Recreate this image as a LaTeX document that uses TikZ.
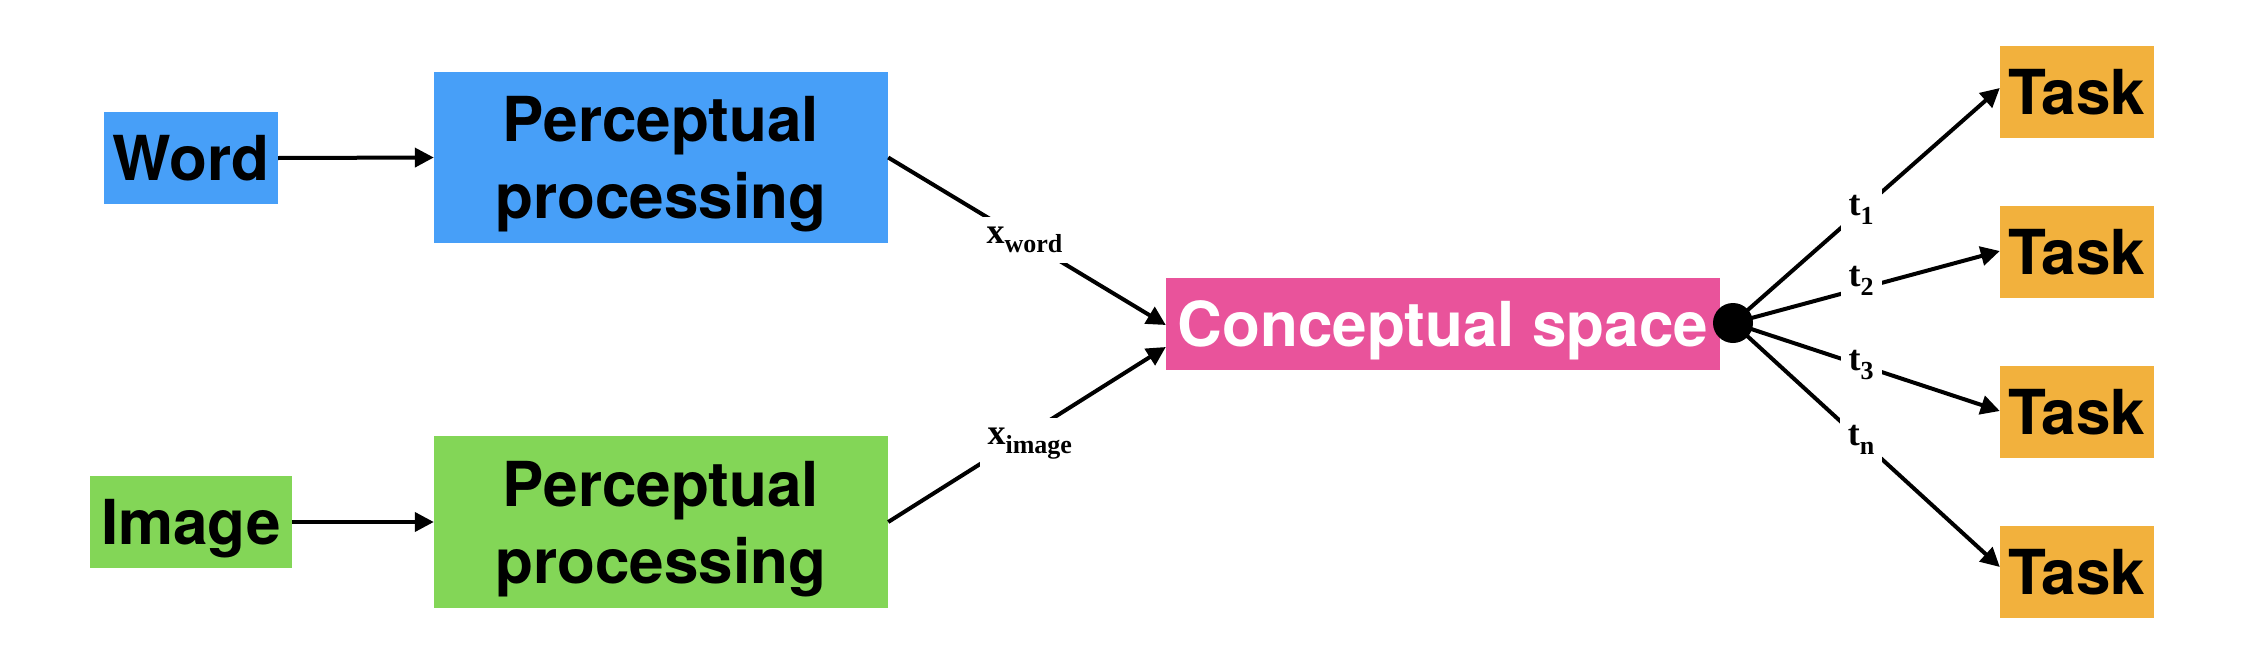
\documentclass[tikz,border=0pt]{standalone}
\usepackage{fontspec}
\setmainfont{TeX Gyre Heros}
\newfontfamily\labfont{Liberation Serif}
\usetikzlibrary{arrows.meta,calc}
\definecolor{cblue}{RGB}{71,159,248}
\definecolor{cgreen}{RGB}{131,214,87}
\definecolor{cpink}{RGB}{233,83,155}
\definecolor{corange}{RGB}{242,177,61}
\newcommand{\edgetext}[2]{{\labfont\bfseries\fontsize{36}{36}\selectfont #1}\raisebox{-9pt}{\labfont\bfseries\fontsize{26}{26}\selectfont #2}}
\begin{document}
\begin{tikzpicture}[x=1pt,y=-1pt,
  box/.style={rectangle, inner sep=0pt, font=\bfseries\fontsize{62}{77}\selectfont, text depth=0pt, align=center},
  conn/.style={line width=4pt, -{Triangle[length=19pt,width=19pt]}},
  edgelab/.style={fill=white, inner xsep=8pt, inner ysep=10pt}
]
\useasboundingbox (0,0) rectangle (2244,664);
\node[box, fill=cblue, minimum width=174pt, minimum height=92pt] (word) at (191,158) {Word};
\node[box, fill=cgreen, minimum width=202pt, minimum height=92pt] (image) at (191,522) {Image};
\node[box, fill=cblue, minimum width=454pt, minimum height=171pt] (pp1) at (661,157.5) {Perceptual\\processing};
\node[box, fill=cgreen, minimum width=454pt, minimum height=172pt] (pp2) at (661,522) {Perceptual\\processing};
\node[box, fill=cpink, text=white, minimum width=554pt, minimum height=92pt] (concept) at (1443,324) {Conceptual space};
\node[box, fill=corange, minimum width=154pt, minimum height=92pt] (task1) at (2077,92) {Task};
\node[box, fill=corange, minimum width=154pt, minimum height=92pt] (task2) at (2077,252) {Task};
\node[box, fill=corange, minimum width=154pt, minimum height=92pt] (task3) at (2077,412) {Task};
\node[box, fill=corange, minimum width=154pt, minimum height=92pt] (task4) at (2077,572) {Task};

\draw[conn] (word.east) -- (pp1.west);
\draw[conn] (image.east) -- (pp2.west);
\draw[conn] (pp1.east) -- node[edgelab, pos=0.491] {\edgetext{x}{word}} ($(concept.west)+(0,1)$);
\draw[conn] (pp2.east) -- node[edgelab, pos=0.51, yshift=-11pt] {\edgetext{x}{image}} ($(concept.west)+(0,23)$);

\node[circle, fill=black, inner sep=0pt, minimum size=40pt] (dot) at (1733,323) {};
\draw[conn] (dot.center) -- node[edgelab, pos=0.48] {\edgetext{t}{1}} ($(task1.west)+(0,-4)$);
\draw[conn] (dot.center) -- node[edgelab, pos=0.48, yshift=8pt] {\edgetext{t}{2}} ($(task2.west)+(0,-1)$);
\draw[conn] (dot.center) -- node[edgelab, pos=0.48] {\edgetext{t}{3}} ($(task3.west)+(0,-1)$);
\draw[conn] (dot.center) -- node[edgelab, pos=0.48] {\edgetext{t}{n}} ($(task4.west)+(0,-5)$);
\end{tikzpicture}
\end{document}
